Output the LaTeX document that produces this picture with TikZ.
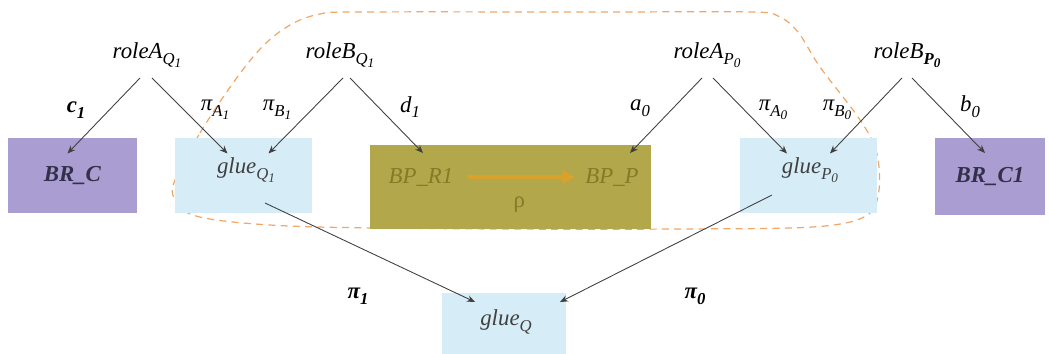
\documentclass[tikz,border=0pt]{standalone}
\usepackage{fontspec}
\setmainfont{Liberation Serif}
\usetikzlibrary{arrows.meta,calc}
\definecolor{brbox}{HTML}{A99DD1}
\definecolor{brtext}{HTML}{33304A}
\definecolor{gluebox}{HTML}{D6ECF6}
\definecolor{bpbox}{HTML}{B3A74B}
\definecolor{bptext}{HTML}{857A26}
\definecolor{rhoar}{HTML}{D9A22A}
\definecolor{hullcol}{HTML}{F0A868}
% lowered subscripts, as in the figure
\newcommand{\lowsub}[1]{\raisebox{-0.55ex}{\fontsize{9.5}{10}\selectfont #1}}
\newcommand{\lowsubb}[1]{\raisebox{-0.45ex}{\fontsize{7.5}{8}\selectfont #1}}
\tikzset{
  >={Stealth[length=1.6mm,width=1.3mm]},
  boxnode/.style={minimum height=1.5cm,inner sep=0pt,font=\fontsize{13}{15}\selectfont},
  brnode/.style={boxnode,fill=brbox,minimum width=2.58cm,text=brtext},
  gluenode/.style={boxnode,fill=gluebox,minimum width=2.74cm,text=black!75},
  rolelbl/.style={font=\fontsize{13}{15}\selectfont,inner sep=1pt},
  maplbl/.style={font=\fontsize{13}{15}\selectfont,inner sep=1pt},
  mapar/.style={->,line width=0.5pt,black!75},
  hull/.style={dash pattern=on 4pt off 3pt,draw=hullcol,line width=0.7pt},
}

\begin{document}
\begin{tikzpicture}[x=0.02cm,y=-0.02cm]
  \useasboundingbox (0,0) rectangle (1049,354);
  % dashed region
  \draw[hull] plot[smooth cycle,tension=0.55] coordinates {
    (175,180) (200,133) (233,83) (262,47) (290,25) (320,14) (360,12)
    (600,12) (750,12) (778,16) (798,32) (820,67) (858,117) (876,150) (879,190)
    (866,216) (813,227) (680,229) (500,229) (317,227) (233,222)
    (190,214) (174,198)};
  % boxes
  \node[brnode] (brc) at (72.5,175.5) {\textbf{\textit{BR\_C}}};
  \node[gluenode] (glq1) at (243.5,175.5) {};
  \node[boxnode,fill=bpbox,minimum width=5.62cm,minimum height=1.68cm] (bp) at (510.5,187) {};
  \node[gluenode] (glp0) at (808.5,175.5) {};
  \node[brnode,minimum width=2.2cm,minimum height=1.54cm] (brc1) at (990,176.5) {\textbf{\textit{BR\_C1}}};
  \node[gluenode,minimum width=2.48cm,minimum height=1.22cm] (glq) at (504,323.5) {};
  % box texts
  \node[rolelbl,text=black!75] (tq1) at (246,170) {\textit{glue\lowsub{Q\lowsubb{1}}}};
  \node[rolelbl,text=black!75] (tp0) at (810,170) {\textit{glue\lowsub{P\lowsubb{0}}}};
  \node[rolelbl,text=black!75] (tq) at (506,322) {\textit{glue\lowsub{Q}}};
  \node[rolelbl,text=bptext] (bpr) at (421,177) {\textit{BP\_R1}};
  \node[rolelbl,text=bptext] (bpp) at (612,177) {\textit{BP\_P}};
  \draw[-{Triangle[length=2.6mm,width=2.6mm]},line width=2.1pt,rhoar,
    shorten <=2.6mm,shorten >=1.6mm]
    (bpr) -- (bpp) node[midway,below=9pt,text=bptext,rolelbl] (rho) {ρ};
  % role labels
  \node[rolelbl] (raq) at (147,55) {\textit{roleA\lowsub{Q\lowsubb{1}}}};
  \node[rolelbl] (rbq) at (340,55) {\textit{roleB\lowsub{Q\lowsubb{1}}}};
  \node[rolelbl] (rap) at (707,55) {\textit{roleA\lowsub{P\lowsubb{0}}}};
  \node[rolelbl] (rbp) at (907,55) {\textit{roleB\lowsub{\textbf{P\lowsubb{0}}}}};
  % maps
  \draw[mapar] ($(raq)+(-7,23)$) -- ($(brc)+(-5,-22)$);
  \draw[mapar] ($(raq)+(5,23)$) -- ($(glq1)+(-16,-22)$);
  \draw[mapar] ($(rbq)+(3,23)$) -- ($(glq1)+(25,-22)$);
  \draw[mapar] ($(rbq)+(10,23)$) -- ($(bp)+(-87.5,-34)$);
  \draw[mapar] ($(rap)+(-5,23)$) -- ($(bp)+(119.5,-34)$);
  \draw[mapar] ($(rap)+(6,23)$) -- ($(glp0)+(-21.5,-22)$);
  \draw[mapar] ($(rbp)+(-5,23)$) -- ($(glp0)+(21.5,-22)$);
  \draw[mapar] ($(rbp)+(5,23)$) -- ($(brc1)+(-5,-23.5)$);
  \draw[mapar] ($(glq1)+(21.5,27.5)$) -- ($(glq)+(-29,-21.5)$);
  \draw[mapar] ($(glp0)+(-36.5,19.5)$) -- ($(glq)+(56,-21.5)$);
  % map labels
  \node[maplbl] (lc1) at (76,110) {\textbf{\textit{c\lowsub{1}}}};
  \node[maplbl] (lpa1) at (215,110) {\textit{π\lowsub{A\lowsubb{1}}}};
  \node[maplbl] (lpb1) at (277,110) {\textit{π\lowsub{B\lowsubb{1}}}};
  \node[maplbl] (ld1) at (410,107) {\textit{d\lowsub{1}}};
  \node[maplbl] (la0) at (640,108) {\textit{a\lowsub{0}}};
  \node[maplbl] (lpa0) at (773,110) {\textit{π\lowsub{A\lowsubb{0}}}};
  \node[maplbl] (lpb0) at (837,110) {\textit{π\lowsub{B\lowsubb{0}}}};
  \node[maplbl] (lb0) at (970,107) {\textit{b\lowsub{0}}};
  \node[maplbl] (lp1) at (358,296) {\textbf{\textit{π\lowsub{1}}}};
  \node[maplbl] (lp0) at (695,296) {\textbf{\textit{π\lowsub{0}}}};
\end{tikzpicture}
\end{document}
